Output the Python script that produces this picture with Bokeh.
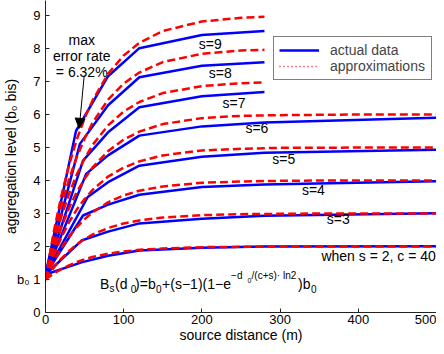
from bokeh.plotting import figure
from bokeh.models import Range1d, Label, Arrow, NormalHead, Legend, LegendItem, FixedTicker
from bokeh.embed import file_html
from bokeh.resources import INLINE

# ---------------- data ----------------
s_values = [2, 3, 4, 5, 6, 7, 8, 9]

# actual data: start at d=0, a knee, then common distances
actual_start_y = 1.15
actual_knee_x = [46, 46, 48, 54, 52, 48, 44, 39]
actual_tail_x_long = [80, 120, 200, 280, 500]   # s = 2..6
actual_tail_x_short = [80, 120, 200, 280]       # s = 7..9

actual_s2 = [1.52, 1.72, 1.88, 1.96, 2.00, 2.01]
actual_s3 = [2.18, 2.45, 2.70, 2.84, 2.93, 3.01]
actual_s4 = [2.94, 3.27, 3.57, 3.80, 3.88, 3.98]
actual_s5 = [3.50, 3.95, 4.45, 4.72, 4.84, 4.93]
actual_s6 = [4.20, 4.76, 5.36, 5.64, 5.76, 5.90]
actual_s7 = [4.60, 5.46, 6.22, 6.55, 6.68]
actual_s8 = [5.11, 6.28, 7.13, 7.48, 7.58]
actual_s9 = [5.50, 7.16, 8.01, 8.41, 8.53]

# approximations
approx_x_long = [0, 10, 20, 30, 40, 50, 60, 80, 100, 120, 150, 200, 250, 300, 350, 400, 450, 500]
approx_x_short = [0, 10, 20, 30, 40, 50, 60, 80, 100, 120, 150, 200, 250, 280]

approx_s2 = [1, 1.17, 1.31, 1.43, 1.53, 1.61, 1.68, 1.78, 1.85, 1.90, 1.94, 1.98, 1.99, 2.00, 2.00, 2.00, 2.00, 2.00]
approx_s3 = [1, 1.34, 1.63, 1.86, 2.06, 2.22, 2.36, 2.56, 2.70, 2.79, 2.88, 2.95, 2.98, 2.99, 3.00, 3.00, 3.00, 3.00]
approx_s4 = [1, 1.52, 1.94, 2.30, 2.59, 2.83, 3.03, 3.34, 3.55, 3.69, 3.82, 3.93, 3.97, 3.99, 4.00, 4.00, 4.00, 4.00]
approx_s5 = [1, 1.69, 2.26, 2.73, 3.12, 3.44, 3.71, 4.12, 4.39, 4.58, 4.76, 4.91, 4.96, 4.99, 4.99, 5.00, 5.00, 5.00]
approx_s6 = [1, 1.86, 2.57, 3.16, 3.65, 4.05, 4.39, 4.89, 5.24, 5.48, 5.71, 5.89, 5.96, 5.98, 5.99, 6.00, 6.00, 6.00]
approx_s7 = [1, 2.03, 2.89, 3.59, 4.18, 4.66, 5.07, 5.67, 6.09, 6.38, 6.65, 6.86, 6.95, 6.97]
approx_s8 = [1, 2.20, 3.20, 4.03, 4.71, 5.27, 5.74, 6.45, 6.94, 7.27, 7.59, 7.84, 7.94, 7.96]
approx_s9 = [1, 2.38, 3.51, 4.46, 5.24, 5.89, 6.42, 7.23, 7.79, 8.17, 8.53, 8.82, 8.93, 8.96]

x_ticks = [0, 100, 200, 300, 400, 500]
y_ticks = [0, 1, 2, 3, 4, 5, 6, 7, 8, 9]

# ---------------- figure ----------------
FONT = "Liberation Sans"
BLUE = "#0000ff"
RED = "#ff0000"

p = figure(width=436, height=346, output_backend="svg", toolbar_location=None,
           x_range=Range1d(0, 500), y_range=Range1d(0, 9.4545),
           min_border_left=42, min_border_right=0, min_border_top=0, min_border_bottom=34)
p.outline_line_color = None
p.grid.visible = False
p.background_fill_color = "white"

for ax in (p.xaxis[0], p.yaxis[0]):
    ax.axis_line_color = "#222222"
    ax.major_tick_line_color = "#222222"
    ax.major_tick_in = 4
    ax.major_tick_out = 0
    ax.minor_tick_line_color = None
    ax.major_label_text_font = FONT
    ax.major_label_text_font_size = "13px"
    ax.major_label_text_color = "black"
    ax.axis_label_text_font = FONT
    ax.axis_label_text_font_size = "14px"
    ax.axis_label_text_font_style = "normal"
    ax.axis_label_text_color = "black"

p.xaxis.ticker = FixedTicker(ticks=x_ticks)
p.yaxis.ticker = FixedTicker(ticks=y_ticks)
p.yaxis.major_label_overrides = {1: "b\u2080 1"}
p.xaxis.major_label_standoff = 2
p.yaxis.major_label_standoff = 5
p.xaxis.axis_label = "source distance (m)"
p.yaxis.axis_label = "aggregation level (b\u2080 bis)"
p.xaxis.axis_label_standoff = 0
p.yaxis.axis_label_standoff = -5

actual_all = [actual_s2, actual_s3, actual_s4, actual_s5, actual_s6, actual_s7, actual_s8, actual_s9]
approx_all = [approx_s2, approx_s3, approx_s4, approx_s5, approx_s6, approx_s7, approx_s8, approx_s9]

for s, knee, ys in zip(s_values, actual_knee_x, actual_all):
    tail = actual_tail_x_long if s <= 6 else actual_tail_x_short
    xs = [0, knee] + tail
    yv = [actual_start_y] + ys
    p.line(xs, yv, line_color=BLUE, line_width=2.5)

for s, ys in zip(s_values, approx_all):
    xs = approx_x_long if s <= 6 else approx_x_short
    p.line(xs, ys, line_color=RED, line_width=2.5, line_dash="8 4")

# legend with (invisible) sample renderers
nan = float("nan")
r_blue = p.line([nan], [nan], line_color=BLUE, line_width=2.5)
r_red = p.line([nan], [nan], line_color=RED, line_width=1.5, line_dash="1 3")
legend = Legend(items=[LegendItem(label="actual data", renderers=[r_blue]),
                       LegendItem(label="approximations", renderers=[r_red])],
                location=(228, 232), margin=0, padding=5, spacing=0,
                glyph_width=40, glyph_height=16, label_height=16, label_standoff=11,
                label_width=96,
                label_text_font=FONT, label_text_font_size="14px",
                border_line_color="black", border_line_width=1,
                background_fill_color="white", background_fill_alpha=1)
p.add_layout(legend)


def lab(x, y, text, size="14px", align="center", baseline="middle", xo=0, yo=0):
    p.add_layout(Label(x=x, y=y, text=text, text_font=FONT, text_font_size=size,
                       text_align=align, text_baseline=baseline, x_offset=xo, y_offset=yo,
                       text_color="black"))


# s=N labels
lab(210.7, 8.15, "s=9")
lab(223.4, 7.27, "s=8")
lab(241.1, 6.36, "s=7")
lab(270.3, 5.58, "s=6")
lab(304.6, 4.64, "s=5")
lab(342.6, 3.70, "s=4")
lab(374.4, 2.82, "s=3")
lab(352.8, 1.70, "when s = 2, c = 40", align="left")

# max error annotation
lab(46.3, 8.27, "max", baseline="alphabetic")
lab(46.3, 7.78, "error rate", baseline="alphabetic")
lab(46.3, 7.28, "= 6.32%", baseline="alphabetic")
p.add_layout(Arrow(end=NormalHead(size=10, fill_color="black", line_color="black"),
                   x_start=49.5, y_start=7.18, x_end=43.1, y_end=5.58,
                   line_color="black", line_width=1))

# formula
fx, fy = 69.8, 0.87
pieces = [
    ("B", "14px", 0, 0),
    ("s", "10px", 9.5, -5),
    ("(d", "14px", 15, 0),
    ("0", "10px", 30.7, -5),
    (")=b", "14px", 35, 0),
    ("0", "10px", 56, -5),
    ("+(s\u22121)(1\u2212e", "14px", 62, 0),
    ("\u2212d", "10px", 131, 8),
    ("0", "7px", 147.5, 3),
    ("/(c+s)\u00b7 ln2", "10px", 151.5, 8),
    (")b", "14px", 198, 0),
    ("0", "10px", 211, -5),
]
for t, sz, xo, yo in pieces:
    lab(fx, fy, t, size=sz, align="left", baseline="alphabetic", xo=xo, yo=yo)

open("out.html", "w").write(file_html(p, INLINE))
